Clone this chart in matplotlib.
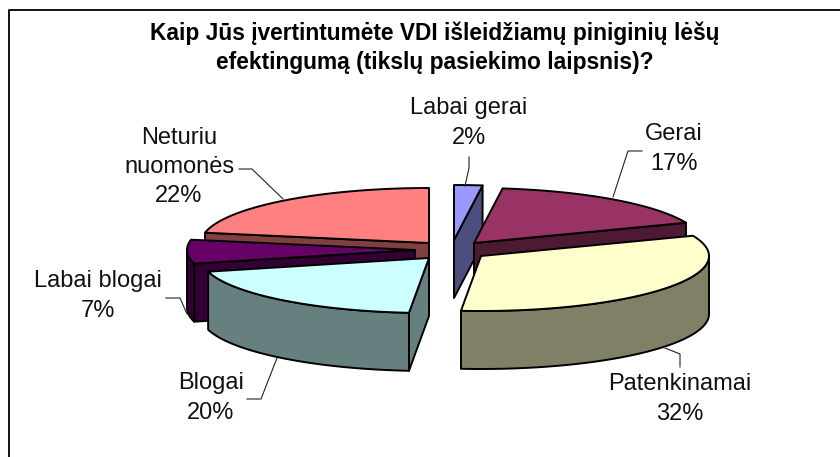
import numpy as np
import matplotlib
matplotlib.use("Agg")
import matplotlib.pyplot as plt
from matplotlib.patches import Polygon

plt.rcParams['font.family'] = ['Liberation Sans', 'DejaVu Sans']

# duomenys
labels = ["Labai gerai", "Gerai", "Patenkinamai", "Blogai", "Labai blogai", "Neturiu\nnuomonės"]
values = [2, 17, 32.4, 19.6, 7, 22]
top_colors = ["#9999FF", "#993366", "#FFFFCC", "#CCFFFF", "#660066", "#FF8080"]
side_colors = ["#4D4D80", "#4D1933", "#808066", "#668080", "#330033", "#804040"]

# isdestymas pikseliais
apex_x = [454, 474, 481, 429, 415, 429]
apex_y = [240, 243, 256, 258, 250, 243]
label_x = [469, 674, 680, 211, 98, 179]
label_y = [123, 149, 399, 398, 296, 167]
leader_lines = [
    [(469, 157), (469, 168), (465, 186)],
    [(642, 151), (628, 151), (613, 197)],
    [(680, 367), (680, 354), (665, 348)],
    [(247, 399), (261, 399), (277, 358)],
    [(166, 298), (180, 298), (187, 314)],
    [(239, 169), (252, 169), (283, 199)],
]
rx, ry = 228, 55
depth = 58
draw_order = [5, 0, 1, 4, 3, 2]

fig = plt.figure(figsize=(8.4, 4.57), dpi=100)
ax = fig.add_axes([0, 0, 1, 1])
ax.set_xlim(0, 840)
ax.set_ylim(457, 0)
ax.axis("off")

# remelis matosi tik is virsaus ir kaires
ax.plot([9, 9, 840], [457, 9.5, 9.5], color="black", lw=1.3)


def rim(cx, cy, a0, a1):
    t = np.radians(np.linspace(a0, a1, max(int(abs(a1 - a0)), 1) + 1))
    return np.column_stack([cx + rx * np.sin(t), cy - ry * np.cos(t)])


def face(pts, color):
    ax.add_patch(Polygon(pts, closed=True, fc=color, ec="black", lw=1.4, joinstyle="round"))


ends = np.cumsum(values) / sum(values) * 360
starts = np.r_[0, ends[:-1]]

for i in draw_order:
    a0, a1 = starts[i], ends[i]
    cx, cy = apex_x[i], apex_y[i]
    down = np.array([0, depth])
    apex = np.array([[cx, cy]])
    # sonines sieneles
    if 0 < a1 < 180:
        edge = np.vstack([apex, rim(cx, cy, a1, a1)])
        face(np.vstack([edge, edge[::-1] + down]), side_colors[i])
    if 180 < a0 < 360:
        edge = np.vstack([apex, rim(cx, cy, a0, a0)])
        face(np.vstack([edge, edge[::-1] + down]), side_colors[i])
    # isorine sienele
    lo, hi = max(a0, 90), min(a1, 270)
    if lo < hi:
        arc = rim(cx, cy, lo, hi)
        face(np.vstack([arc, arc[::-1] + down]), side_colors[i])
    # virsus
    face(np.vstack([apex, rim(cx, cy, a0, a1)]), top_colors[i])

for pts in leader_lines:
    xs, ys = zip(*pts)
    ax.plot(xs, ys, color="#222222", lw=0.8)

for name, v, x, y in zip(labels, values, label_x, label_y):
    ax.text(x, y, f"{name}\n{round(v)}%", ha="center", va="center", fontsize=17, linespacing=1.43, color="#111111")

ax.text(435, 48, "Kaip Jūs įvertintumėte VDI išleidžiamų piniginių lėšų\nefektingumą (tikslų pasiekimo laipsnis)?",
        ha="center", va="center", fontsize=16.4, fontweight="bold", linespacing=1.36)

fig.savefig("out.png", dpi=100)
